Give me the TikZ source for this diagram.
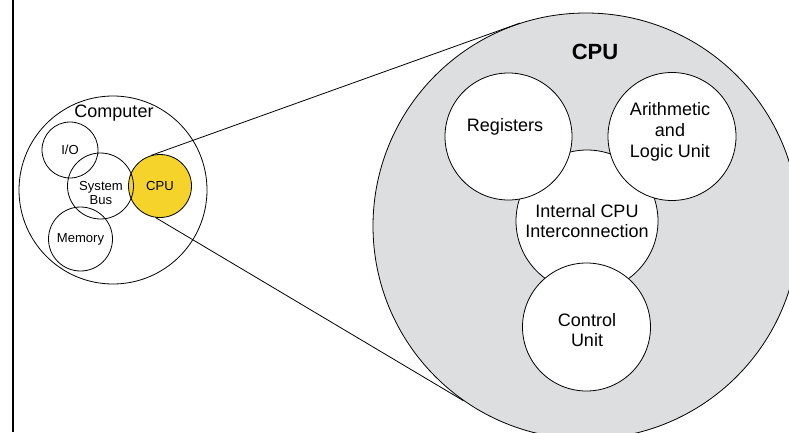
\documentclass[tikz,border=0pt]{standalone}
\usepackage{fontspec}
\setmainfont{Liberation Sans}
\definecolor{cpuyellow}{RGB}{245,211,42}
\definecolor{cpugray}{RGB}{221,222,224}
\tikzset{
  unit/.style={circle,draw,inner sep=0pt,line width=0.6pt},
  small/.style={font=\fontsize{9.8}{10}\selectfont,align=center},
  big/.style={font=\fontsize{13.5}{15.5}\selectfont,align=center}
}
\begin{document}
\begin{tikzpicture}[x=0.75pt,y=-0.75pt]
\useasboundingbox (0,0) rectangle (789,432);
\clip (0,0) rectangle (789,432);
\draw[line width=0.8pt] (13,0) -- (13,432);

% the computer
\node[unit,fill=cpuyellow,minimum size=47.25pt,small] (cpu) at (160,186) {CPU};
\node[unit,minimum size=141pt] (computer) at (113,190) {};
\node[big] (computertext) at (114,113) {Computer};
\node[unit,minimum size=42pt,small] (io) at (70,150) {I/O};
\node[unit,minimum size=49.5pt] (bus) at (100.5,186) {};
\node[small] (bustext) at (101,193) {System\\Bus};
\node[unit,minimum size=48pt,small] (memory) at (80.5,239) {Memory};

% the CPU, enlarged
\node[unit,fill=cpugray,minimum size=319.5pt] (bigcpu) at (586,226) {};
\node[font=\fontsize{16.5}{18}\selectfont\bfseries] (cputext) at (595,52) {CPU};
\node[unit,fill=white,minimum size=106.5pt,big] (bus2) at (587,221) {Internal CPU\\Interconnection};
\node[unit,fill=white,minimum size=95.25pt] (registers) at (508.5,136.5) {};
\node[big] (regtext) at (505,127) {Registers};
\node[unit,fill=white,minimum size=96pt] (alu) at (672,136.5) {};
\node[big] (alutext) at (670,132) {Arithmetic\\and\\Logic Unit};
\node[unit,fill=white,minimum size=96pt] (control) at (586.5,327) {};
\node[big] (controltext) at (587,330) {Control\\Unit};

\draw[line width=0.6pt] (cpu.106) -- (bigcpu.108);
\draw[line width=0.6pt] (cpu.262) -- (bigcpu.235);

\end{tikzpicture}
\end{document}
